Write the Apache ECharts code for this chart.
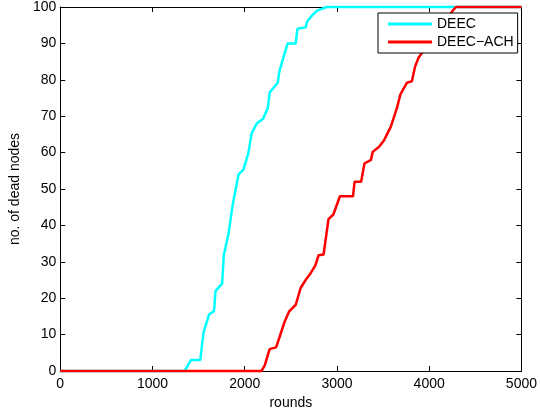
<!DOCTYPE html>
<html>
<head>
<meta charset="utf-8">
<script src="https://cdn.jsdelivr.net/npm/echarts@6/dist/echarts.min.js"></script>
<style>html,body{margin:0;padding:0;background:#fff}#c{width:540px;height:415px}</style>
</head>
<body>
<div id="c"></div>
<script>
// DEEC: [round, dead nodes]
var deecRounds = [0, 1348, 1418, 1518, 1553, 1613, 1667, 1684, 1755, 1773, 1826, 1862, 1879, 1933, 1986, 2039, 2074, 2128, 2199, 2252, 2270, 2358, 2376, 2429, 2465, 2553, 2571, 2660, 2677, 2731, 2784, 2890, 5000];
var deecDead   = [0, 0,    3,    3,    10.6, 15.5, 16.5, 22,   24,   31.8, 38,   44.4, 47,   54,   55.3, 59.8, 65.2, 67.9, 69.3, 72.4, 76.5, 79.2, 82.4, 86.9, 90,   90,   94,   94.4, 96,   97.7, 99,   100,  100];
// DEEC-ACH
var achRounds = [0, 2181, 2216, 2270, 2340, 2376, 2429, 2482, 2553, 2606, 2660, 2713, 2766, 2801, 2855, 2908, 2961, 3032, 3174, 3191, 3262, 3298, 3369, 3387, 3457, 3511, 3546, 3582, 3617, 3652, 3688, 3759, 3812, 3848, 3883, 3918, 3950, 4000, 4060, 4130, 4200, 4255, 4290, 5000];
var achDead   = [0, 0,    1.5,  6,    6.5,  9.2,  13.3, 16.4, 18.2, 22.8, 25,   26.8, 29,   31.8, 32,   41.7, 43,   48,   48,   52,   52,   57,   58,   60.2, 61.6, 63.4, 65.2, 67,   69.7, 72.4, 76,   79.2, 79.6, 83.7, 86,   87.3, 88,   90,   92,   95,   97,   99,   100,  100];
var seriesNames = ['DEEC', 'DEEC\u2212ACH'];
var xTicks = {min: 0, max: 5000, step: 1000};
var yTicks = {min: 0, max: 100, step: 10};

function pairs(xs, ys) { return xs.map(function (x, i) { return [x, ys[i]]; }); }

var font = 'Liberation Sans, Arial, Helvetica, sans-serif';
var boxAxis = {
  axisLine: {show: true, onZero: false, lineStyle: {color: '#000', width: 1}},
  axisTick: {show: true, inside: true, length: 5, lineStyle: {color: '#000'}},
  splitLine: {show: false}
};
function plain(v) { return String(v); }

var chart = echarts.init(document.getElementById('c'), null, {renderer: 'canvas'});
chart.setOption({
  animation: false,
  backgroundColor: '#fff',
  grid: {left: 55, right: 15, top: 5, bottom: 41, containLabel: false},
  legend: {
    left: 378, top: 13, orient: 'vertical',
    backgroundColor: '#fff', borderColor: '#000', borderWidth: 1, borderRadius: 0,
    padding: [4, 4, 4, 10], itemGap: 4, itemWidth: 44, itemHeight: 3,
    icon: 'rect',
    textStyle: {fontFamily: font, fontSize: 14, color: '#000'},
    data: seriesNames
  },
  xAxis: [
    Object.assign({type: 'value', position: 'bottom', min: xTicks.min, max: xTicks.max, interval: xTicks.step,
      name: 'rounds', nameLocation: 'middle', nameGap: 25,
      nameTextStyle: {fontFamily: font, fontSize: 14, color: '#000'},
      axisLabel: {fontFamily: font, fontSize: 14, color: '#000', margin: 6, formatter: plain}}, boxAxis),
    Object.assign({type: 'value', position: 'top', min: xTicks.min, max: xTicks.max, interval: xTicks.step,
      axisLabel: {show: false}}, boxAxis)
  ],
  yAxis: [
    Object.assign({type: 'value', position: 'left', min: yTicks.min, max: yTicks.max, interval: yTicks.step,
      name: 'no. of dead nodes', nameLocation: 'middle', nameGap: 35,
      nameTextStyle: {fontFamily: font, fontSize: 14, color: '#000'},
      axisLabel: {fontFamily: font, fontSize: 14, color: '#000', margin: 4, formatter: plain}}, boxAxis),
    Object.assign({type: 'value', position: 'right', min: yTicks.min, max: yTicks.max, interval: yTicks.step,
      axisLabel: {show: false}}, boxAxis)
  ],
  series: [
    {name: seriesNames[0], type: 'line', data: pairs(deecRounds, deecDead), showSymbol: false, clip: false,
      lineStyle: {color: '#00ffff', width: 2.5}, itemStyle: {color: '#00ffff'}},
    {name: seriesNames[1], type: 'line', data: pairs(achRounds, achDead), showSymbol: false, clip: false,
      lineStyle: {color: '#ff0000', width: 2.5}, itemStyle: {color: '#ff0000'}}
  ]
});
</script>
</body>
</html>
